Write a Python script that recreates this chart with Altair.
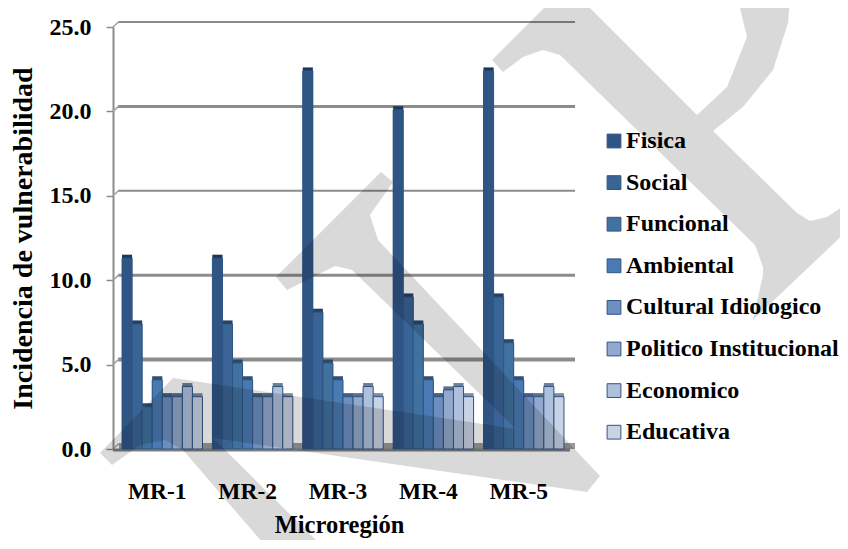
import altair as alt
import pandas as pd

regions = ["MR-1", "MR-2", "MR-3", "MR-4", "MR-5"]
series = ["Fisica", "Social", "Funcional", "Ambiental", "Cultural Idiologico",
          "Politico Institucional", "Economico", "Educativa"]
colors = ["#2f5585", "#3a6496", "#41719f", "#4a7ab3", "#6d8fc0", "#92a8cc", "#afc0dc", "#c9d3e6"]
values = {
    "MR-1": [11.3, 7.4, 2.5, 4.1, 3.1, 3.1, 3.7, 3.1],
    "MR-2": [11.3, 7.4, 5.1, 4.1, 3.1, 3.1, 3.7, 3.1],
    "MR-3": [22.4, 8.1, 5.1, 4.1, 3.1, 3.1, 3.7, 3.1],
    "MR-4": [20.1, 9.0, 7.4, 4.1, 3.1, 3.5, 3.7, 3.1],
    "MR-5": [22.4, 9.0, 6.3, 4.1, 3.1, 3.1, 3.7, 3.1],
}
grid_values = [5, 10, 15, 20, 25]
grid_widths = [4, 3, 2, 3, 2]
tick_values = [0, 5, 10, 15, 20, 25]

watermark_a = [(100,453),(173,378),(516,429),(352,270),(335,266),(287,290),(276,277),(381,172),
               (393,182),(370,215),(378,240),(600,476),(587,492),(213,438),(325,549),(268,549),
               (183,450),(165,440),(140,445),(112,465)]
watermark_b = [(492,60),(552,0),(582,0),(697,115),(727,87),(747,37),(738,0),(790,0),(788,23),
               (773,70),(743,107),(713,131),(797,213),(810,221),(827,217),(848,203),(848,230),
               (753,320),(763,275),(763,267),(755,245),(560,55),(543,50),(523,57),(503,72)]

FONT = "Liberation Serif"
rows = [{"region": r, "serie": s, "value": v, "order": i}
        for r in regions for i, (s, v) in enumerate(zip(series, values[r]))]
df = pd.DataFrame(rows)
grid = pd.DataFrame({"v": grid_values, "w": grid_widths})
slants = pd.DataFrame({"v": tick_values, "v2": [t + 0.33 for t in tick_values]})

x_enc = alt.X("region:N", sort=regions, title="Microregión",
              scale=alt.Scale(paddingInner=0.11, paddingOuter=0.1),
              axis=alt.Axis(labelAngle=0, ticks=False, domain=False, labelOffset=-5, labelPadding=30,
                            labelFont=FONT, labelFontSize=23.5, labelFontWeight="bold", labelColor="black",
                            titleFont=FONT, titleFontSize=24.5, titleFontWeight="bold", titleColor="black",
                            titlePadding=11, titleX=226, titleAnchor="middle"))
off = alt.XOffset("serie:N", sort=series, scale=alt.Scale(paddingInner=0, paddingOuter=0))
y_enc = alt.Y("value:Q", stack=None, title="Incidencia de vulnerabilidad",
              scale=alt.Scale(domain=[0, 25]),
              axis=alt.Axis(values=tick_values, format=".1f", grid=False, domainColor="#8c8c8c", domainWidth=2,
                            tickColor="#8c8c8c", tickSize=7, tickWidth=1.5, labelPadding=15,
                            labelFont=FONT, labelFontSize=24, labelFontWeight="bold", labelColor="black",
                            titleFont=FONT, titleFontSize=28, titleFontWeight="bold", titleColor="black",
                            titlePadding=12))
col = alt.Color("serie:N", sort=series, scale=alt.Scale(domain=series, range=colors),
                legend=alt.Legend(title=None, orient="none", legendX=489, legendY=102, symbolType="square",
                                  symbolSize=190, symbolStrokeColor="#2f5585", symbolStrokeWidth=1,
                                  labelFont=FONT, labelFontSize=24, labelFontWeight="bold", labelColor="black",
                                  labelLimit=400, labelOffset=0, rowPadding=17.6))

rules = alt.Chart(grid).mark_rule(color="#8c8c8c", yOffset=-5).encode(
    y=alt.Y("v:Q", scale=alt.Scale(domain=[0, 25])),
    x=alt.value(5), x2=alt.value(462), size=alt.Size("w:Q", scale=None, legend=None))
slant = alt.Chart(slants).mark_rule(color="#a0a0a0", strokeWidth=1.5).encode(
    y=alt.Y("v:Q", scale=alt.Scale(domain=[0, 25])), y2="v2:Q", x=alt.value(0), x2=alt.value(6))
floor_data = pd.DataFrame({"v": [0]})
floor_back = alt.Chart(floor_data).mark_rule(color="#9a9a9a", strokeWidth=6, yOffset=-3).encode(
    y=alt.Y("v:Q", scale=alt.Scale(domain=[0, 25])), x=alt.value(6), x2=alt.value(462))
floor_front = alt.Chart(floor_data).mark_rule(color="#808080", strokeWidth=3, yOffset=1).encode(
    y=alt.Y("v:Q", scale=alt.Scale(domain=[0, 25])), x=alt.value(0), x2=alt.value(457))

back = alt.Chart(df).mark_bar(xOffset=4, yOffset=-3.5).encode(x=x_enc, xOffset=off, y=y_enc, color=col)
shade = alt.Chart(df).mark_bar(xOffset=4, yOffset=-3.5, color="black", opacity=0.35).encode(x=x_enc, xOffset=off, y=y_enc)
front = alt.Chart(df).mark_bar(stroke="#2f5585", strokeWidth=1).encode(x=x_enc, xOffset=off, y=y_enc, color=col)

def feature(pts):
    ring = [list(p) for p in pts] + [list(pts[0])]
    return {"type": "Feature", "properties": {}, "geometry": {"type": "Polygon", "coordinates": [ring]}}

mark_data = alt.Data(values=[feature(watermark_a), feature(watermark_b)])
wm = alt.Chart(mark_data).mark_geoshape(fill="black", fillOpacity=0.15, clip=False).project(
    type="identity", scale=1, translate=[-113, -27])

chart = alt.layer(rules, slant, floor_back, floor_front, back, shade, front, wm).properties(
    width=460, height=422,
    padding={"left": 105, "top": 19, "right": 267, "bottom": 91},
    autosize=alt.AutoSizeParams(type="none"),
).configure_view(stroke=None)

chart.save("out.html", embed_options={"renderer": "svg", "actions": False})
